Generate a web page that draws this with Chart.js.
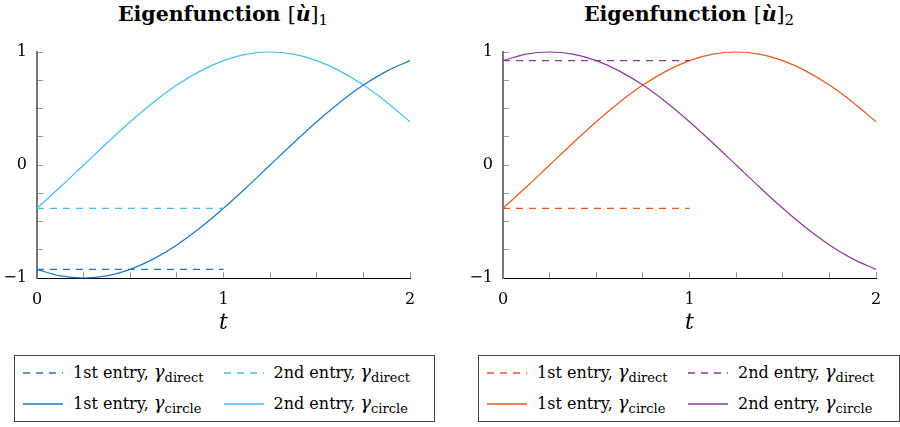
<!DOCTYPE html>
<html>
<head>
<meta charset="utf-8">
<script src="https://cdn.jsdelivr.net/npm/chart.js@4"></script>
<style>
  body { margin: 0; background: #fff; font-family: "DejaVu Serif", serif; }
  .title { position: absolute; top: 2px; font-weight: bold; font-size: 20.5px; white-space: nowrap; transform: translateX(-50%); }
  .title .br { font-weight: normal; }
  .title sub { font-weight: normal; font-size: 15px; vertical-align: -4px; }
  canvas { position: absolute; top: 30px; }
  .legend { position: absolute; top: 355px; height: 67px; border: 1px solid #444; box-sizing: border-box;
            display: grid; grid-template-columns: auto auto; align-content: center; column-gap: 4px; row-gap: 7px;
            padding: 0 8px; font-size: 16px; }
  .item { display: flex; align-items: center; white-space: nowrap; }
  .item svg { margin-right: 10px; }
  .item i { font-size: 18px; }
  .item sub { font-size: 13px; vertical-align: -4px; }
</style>
</head>
<body>
<div id="root"></div>
<script>
// ---------- Data ----------
const tGrid = [0, 0.125, 0.25, 0.375, 0.5, 0.625, 0.75, 0.875, 1, 1.125, 1.25, 1.375, 1.5, 1.625, 1.75, 1.875, 2];

// circle curves
const riseCurve = [-0.383, -0.195, 0, 0.195, 0.383, 0.556, 0.707, 0.831, 0.924, 0.981, 1, 0.981, 0.924, 0.831, 0.707, 0.556, 0.383];
const dipCurve  = [-0.924, -0.981, -1, -0.981, -0.924, -0.831, -0.707, -0.556, -0.383, -0.195, 0, 0.195, 0.383, 0.556, 0.707, 0.831, 0.924];
const fallCurve = [0.924, 0.981, 1, 0.981, 0.924, 0.831, 0.707, 0.556, 0.383, 0.195, 0, -0.195, -0.383, -0.556, -0.707, -0.831, -0.924];

// direct (constant) values over t in [0, 1]
const directT = [0, 1];
const u1Direct = { first: -0.924, second: -0.383 };
const u2Direct = { first: -0.383, second: 0.924 };

const xTicks = [0, 1, 2];
const yTicks = [-1, 0, 1];

const COLORS = {
    blueDark: "#1f78c1", blueLight: "#45bff0",
    orange: "#e9581f", purple: "#8c3a9b"
};

const pts = (xs, ys) => xs.map((x, i) => ({ x: x, y: ys[i] }));
const flat = (v) => directT.map(() => v);

// pin axis box sizes so both plot areas line up
function pinScale(size) {
    return s => {
        if (s.isHorizontal()) s.height = size; else s.width = size;
        s.paddingTop = s.paddingBottom = s.paddingLeft = s.paddingRight = 0;
    };
}

// ---------- One panel ----------
function makePanel(opts) {
    const root = document.getElementById("root");
    const W = opts.width, H = 310;

    const title = document.createElement("div");
    title.className = "title";
    title.style.left = (opts.left + 37 + 186) + "px";
    title.innerHTML = `Eigenfunction <span class="br">[</span><i>ù</i><span class="br">]</span><sub>${opts.index}</sub>`;
    root.appendChild(title);

    const cv = document.createElement("canvas");
    cv.style.left = opts.left + "px";
    cv.style.width = W + "px";
    cv.style.height = H + "px";
    cv.width = W; cv.height = H;
    root.appendChild(cv);

    const line = (label, data, color, dashed) => ({
        label: label, data: data, borderColor: color, borderWidth: 1.2,
        borderDash: dashed ? [7, 6] : [], pointRadius: 0, fill: false,
        tension: dashed ? 0 : 0.4, cubicInterpolationMode: "monotone", clip: 3
    });

    new Chart(cv, {
        type: "line",
        data: {
            datasets: [
                line("1st entry, direct", pts(directT, flat(opts.direct.first)), opts.c1, true),
                line("2nd entry, direct", pts(directT, flat(opts.direct.second)), opts.c2, true),
                line("1st entry, circle", pts(tGrid, opts.circle1), opts.c1, false),
                line("2nd entry, circle", pts(tGrid, opts.circle2), opts.c2, false)
            ]
        },
        options: {
            responsive: false,
            animation: false,
            layout: { padding: { left: 0, right: W - 410, top: 22, bottom: 0 } },
            plugins: { legend: { display: false }, tooltip: { enabled: false } },
            scales: {
                x: {
                    type: "linear", min: 0, max: 2,
                    afterFit: pinScale(62),
                    afterBuildTicks: s => { s.ticks = [0, 0.25, 0.5, 0.75, 1, 1.25, 1.5, 1.75, 2].map(v => ({ value: v })); },
                    ticks: {
                        autoSkip: false, maxRotation: 0, padding: 18, color: "#000",
                        font: { family: "DejaVu Serif", size: 16 },
                        callback: v => xTicks.includes(v) ? String(v) : ""
                    },
                    grid: { drawOnChartArea: false, drawTicks: true, tickLength: -6, color: "#999", lineWidth: 1 },
                    border: { color: "#000", width: 1 },
                    title: { display: true, text: "t", color: "#000", padding: { top: 0, bottom: 4 },
                             font: { family: "DejaVu Serif", size: 22, style: "italic" } }
                },
                y: {
                    min: -1, max: 1,
                    afterFit: pinScale(37),
                    afterBuildTicks: s => { s.ticks = [-1, -0.75, -0.5, -0.25, 0, 0.25, 0.5, 0.75, 1].map(v => ({ value: v })); },
                    ticks: {
                        autoSkip: false, padding: 16, color: "#000",
                        font: { family: "DejaVu Serif", size: 16 },
                        callback: v => yTicks.includes(v) ? (v < 0 ? "\u2212" + Math.abs(v) : String(v)) : ""
                    },
                    grid: { drawOnChartArea: false, drawTicks: true, tickLength: -6, color: "#999", lineWidth: 1 },
                    border: { color: "#777", width: 2 }
                }
            }
        }
    });

    // ---------- HTML legend (needs subscripts) ----------
    const lg = document.createElement("div");
    lg.className = "legend";
    lg.style.left = opts.legendLeft + "px";
    lg.style.width = opts.legendWidth + "px";
    const sample = (color, dashed) =>
        `<svg width="40" height="6"><line x1="0" y1="3" x2="40" y2="3" stroke="${color}" stroke-width="1.5" ${dashed ? 'stroke-dasharray="7 6"' : ""}/></svg>`;
    const entries = [
        [opts.c1, true, "1st entry", "direct"], [opts.c2, true, "2nd entry", "direct"],
        [opts.c1, false, "1st entry", "circle"], [opts.c2, false, "2nd entry", "circle"]
    ];
    lg.innerHTML = entries.map(e =>
        `<div class="item">${sample(e[0], e[1])}<span>${e[2]}, <i>γ</i><sub>${e[3]}</sub></span></div>`
    ).join("");
    root.appendChild(lg);
}

makePanel({
    index: 1, left: 0, width: 450,
    c1: COLORS.blueDark, c2: COLORS.blueLight,
    circle1: dipCurve, circle2: riseCurve, direct: u1Direct,
    legendLeft: 14, legendWidth: 421
});

makePanel({
    index: 2, left: 466, width: 434,
    c1: COLORS.orange, c2: COLORS.purple,
    circle1: riseCurve, circle2: fallCurve, direct: u2Direct,
    legendLeft: 478, legendWidth: 422
});
</script>
</body>
</html>
